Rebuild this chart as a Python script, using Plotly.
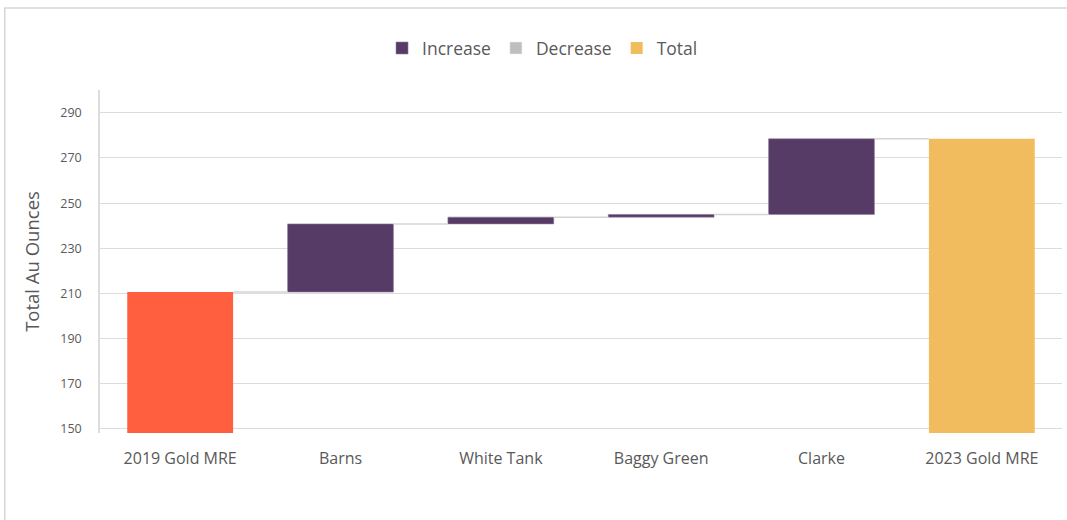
import plotly.graph_objects as go

categories = ["2019 Gold MRE", "Barns", "White Tank", "Baggy Green", "Clarke", "2023 Gold MRE"]
start_value = 210.6
changes = [30.2, 3.0, 1.2, 33.5]
tick_values_y = [150, 170, 190, 210, 230, 250, 270, 290]

# derived cumulative levels
levels = [start_value]
for c in changes:
    levels.append(levels[-1] + c)
end_value = levels[-1]

AXIS_BASE = 148.2
BAR_W = 0.66
PURPLE = "#553B66"
RED = "#FF5E3F"
YELLOW = "#F0BC5E"
GRAY = "#BFBFBF"
GRID = "#DCDCDC"
TXT = "#595959"
FONT = "Open Sans"

xs = list(range(len(categories)))
fig = go.Figure()

# start bar (not in legend)
fig.add_trace(go.Bar(x=[xs[0]], y=[start_value - AXIS_BASE], base=[AXIS_BASE], width=BAR_W,
                     marker=dict(color=RED, line=dict(width=0)), showlegend=False, name="Start"))
# increases
inc_x = xs[1:1 + len(changes)]
fig.add_trace(go.Bar(x=inc_x, y=changes, base=levels[:-1], width=BAR_W,
                     marker=dict(color=PURPLE, line=dict(width=0.6, color="#8E7C9A")), name="Increase"))
# decrease (legend only, no data)
fig.add_trace(go.Bar(x=[None], y=[None], width=BAR_W, marker=dict(color=GRAY), name="Decrease"))
# total
fig.add_trace(go.Bar(x=[xs[-1]], y=[end_value - AXIS_BASE], base=[AXIS_BASE], width=BAR_W,
                     marker=dict(color=YELLOW, line=dict(width=0)), name="Total"))

# connectors
for i in range(len(categories) - 1):
    lvl = levels[i]
    fig.add_trace(go.Scatter(x=[xs[i] + BAR_W / 2, xs[i + 1] - BAR_W / 2], y=[lvl, lvl],
                             mode="lines", line=dict(color="#D4D4D4", width=1.5),
                             showlegend=False, hoverinfo="skip"))

# outer frame
fig.add_shape(type="rect", xref="paper", yref="paper", x0=-0.0990, x1=1.2, y0=-0.5, y1=1.2389,
              line=dict(color="#D6D6D6", width=1.5), fillcolor="rgba(0,0,0,0)", layer="below")

fig.update_layout(
    width=1067, height=520,
    margin=dict(l=100, r=5, t=90, b=87),
    paper_bgcolor="white", plot_bgcolor="white",
    barmode="overlay",
    font=dict(family=FONT, color=TXT, size=13),
    legend=dict(orientation="h", x=0.460, xanchor="center", y=1.122, yanchor="middle",
                bgcolor="rgba(0,0,0,0)",
                font=dict(size=17.5, color=TXT), traceorder="normal", itemwidth=30),
    xaxis=dict(range=[-0.5, len(categories) - 0.5], tickvals=xs, ticktext=categories,
               showgrid=False, zeroline=False, showline=False, ticks="",
               ticklabelstandoff=14, tickfont=dict(size=16, color=TXT)),
    yaxis=dict(range=[AXIS_BASE, 300.1], tickvals=tick_values_y, showgrid=True, gridcolor=GRID,
               gridwidth=1, zeroline=False, showline=True, linecolor=GRID, linewidth=1.5,
               ticks="", ticklabelstandoff=14, tickfont=dict(size=12.5, color=TXT),
               title=dict(text="Total Au Ounces", font=dict(size=18.5, color=TXT), standoff=16)),
)

fig.write_html("out.html")
